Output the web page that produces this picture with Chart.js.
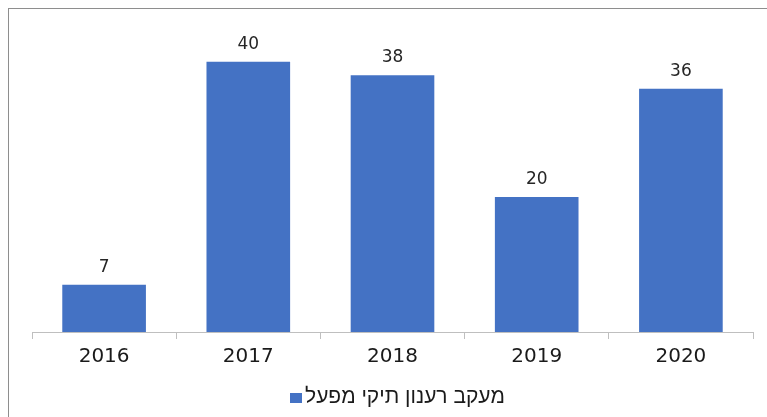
<!DOCTYPE html>
<html>
<head>
<meta charset="utf-8">
<script src="https://cdn.jsdelivr.net/npm/chart.js@4"></script>
<style>
  html, body { margin: 0; padding: 0; background: #fff; overflow: hidden; }
  #frame { position: absolute; left: 8px; top: 8px; width: 900px; height: 600px;
           border-left: 1px solid #8e8e8e; border-top: 1px solid #8e8e8e; }
  #c { position: absolute; left: 0; top: 0; }
  #legend { position: absolute; left: 290px; top: 384px; height: 24px; white-space: nowrap;
            font: 21px "Liberation Sans", Arial, sans-serif; color: #1a1a1a; line-height: 24px; }
  #legend .box { display: inline-block; width: 12px; height: 10px; margin-right: 3px; vertical-align: 0px; }
</style>
</head>
<body>
<div id="frame"></div>
<canvas id="c" width="767" height="417" style="width:767px;height:417px"></canvas>
<div id="legend"></div>
<script>
const categories = ['2016', '2017', '2018', '2019', '2020'];
const values = [7, 40, 38, 20, 36];
const seriesName = 'מעקב רענון תיקי מפעל';

const dataLabels = {
  id: 'dataLabels',
  afterDatasetsDraw(chart) {
    const ctx = chart.ctx;
    const meta = chart.getDatasetMeta(0);
    ctx.save();
    ctx.font = '17px "DejaVu Sans"';
    ctx.fillStyle = '#262626';
    ctx.textAlign = 'center';
    ctx.textBaseline = 'alphabetic';
    meta.data.forEach((bar, i) => {
      ctx.fillText(String(values[i]), bar.x, bar.y - 13);
    });
    ctx.restore();
  }
};

const htmlLegend = {
  id: 'htmlLegend',
  afterUpdate(chart) {
    const el = document.getElementById('legend');
    el.innerHTML = '';
    const items = chart.options.plugins.legend.labels.generateLabels(chart);
    items.forEach(item => {
      const box = document.createElement('span');
      box.className = 'box';
      box.style.background = item.fillStyle;
      const txt = document.createElement('span');
      txt.dir = 'rtl';
      txt.textContent = item.text;
      el.appendChild(box);
      el.appendChild(txt);
    });
  }
};

new Chart(document.getElementById('c'), {
  type: 'bar',
  data: {
    labels: categories,
    datasets: [{
      label: seriesName,
      data: values,
      backgroundColor: '#4472C4',
      borderWidth: 0,
      categoryPercentage: 1,
      barPercentage: 0.58
    }]
  },
  options: {
    responsive: false,
    animation: false,
    devicePixelRatio: 1,
    layout: { padding: { left: 32, right: 14, top: 28, bottom: 40 } },
    scales: {
      y: { display: false, min: 0, max: 45 },
      x: {
        offset: true,
        grid: { offset: true, drawOnChartArea: false, tickLength: 7, color: '#bfbfbf' },
        border: { color: '#bfbfbf' },
        ticks: { color: '#1a1a1a', font: { family: 'DejaVu Sans', size: 20 }, padding: 6 },
        afterFit(scale) { scale.height = 45; }
      }
    },
    plugins: {
      legend: { display: false },
      tooltip: { enabled: false }
    }
  },
  plugins: [dataLabels, htmlLegend]
});
</script>
</body>
</html>
